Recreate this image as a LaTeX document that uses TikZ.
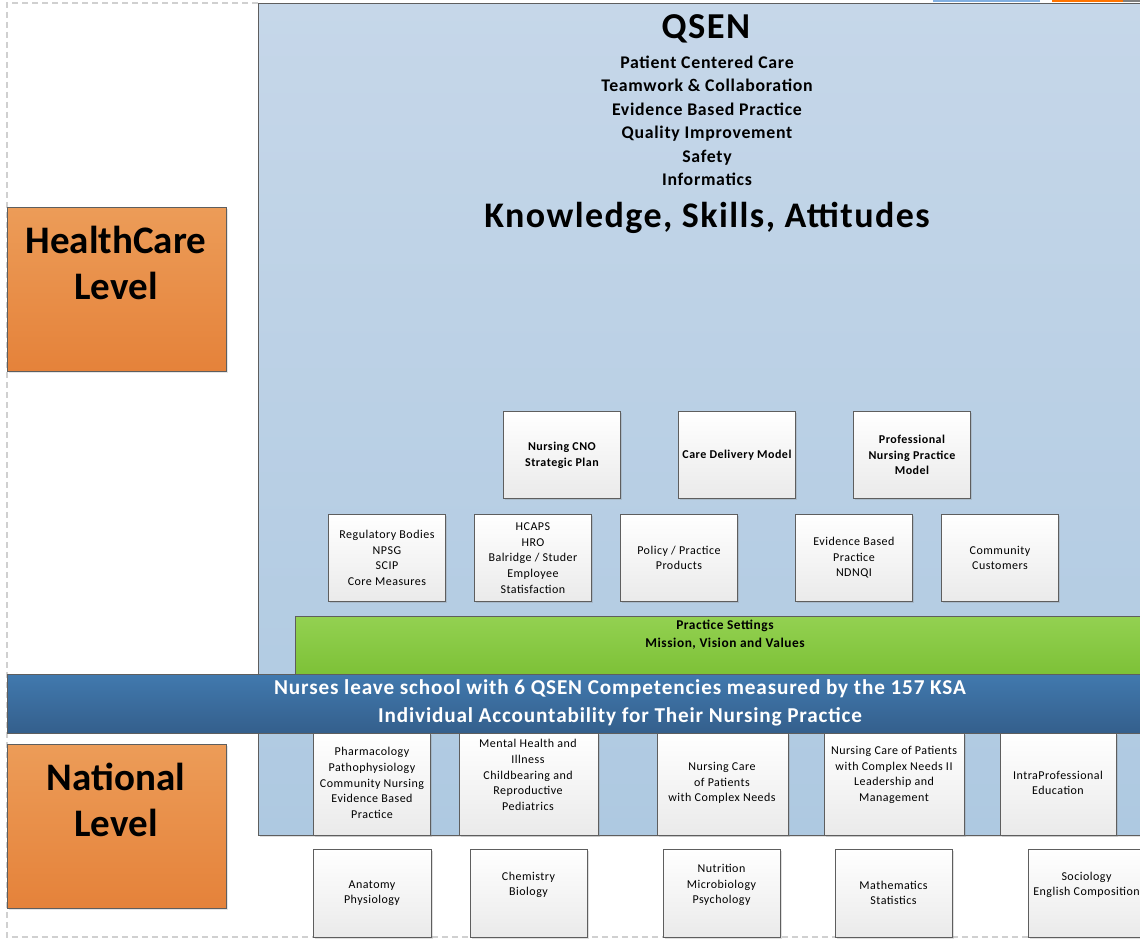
\documentclass[tikz,border=0pt]{standalone}
\usepackage{fontspec}
\setmainfont{Carlito}[LetterSpace=4]
\newfontfamily\plainfont{Carlito}
\usetikzlibrary{shadows}
\definecolor{bgtop}{HTML}{C6D7E9}
\definecolor{bgbot}{HTML}{AEC9E1}
\definecolor{bandtop}{HTML}{4179AE}
\definecolor{bandbot}{HTML}{345F8C}
\definecolor{grtop}{HTML}{93D151}
\definecolor{grbot}{HTML}{7DC137}
\definecolor{ortop}{HTML}{EC9C58}
\definecolor{orbot}{HTML}{E5823A}
\definecolor{edge}{HTML}{5E5E5E}
\definecolor{wbot}{HTML}{EAEAEA}
\definecolor{dashgray}{HTML}{D0D0D0}
\tikzset{
  wbox/.style={draw=edge, line width=0.9pt, top color=white, bottom color=wbot,
    anchor=north west, inner sep=2pt,
    drop shadow={opacity=0.25, shadow xshift=1.5pt, shadow yshift=-1.5pt}},
  txt/.style={inner sep=0pt, align=center, font=\fontsize{12}{15.6}\selectfont},
  btxt/.style={txt, font=\bfseries\fontsize{12}{15.8}\selectfont},
  lvl/.style={draw=edge, line width=0.9pt, top color=ortop, bottom color=orbot,
    anchor=north west, minimum width=219pt, minimum height=164pt,
    drop shadow={opacity=0.2, shadow xshift=1.5pt, shadow yshift=-1.5pt}},
  lvltxt/.style={inner sep=0pt, align=center, font=\plainfont\bfseries\fontsize{39}{46}\selectfont},
  hdr/.style={inner sep=0pt, anchor=base, font=\bfseries\fontsize{17.8}{20}\selectfont}
}
\begin{document}
\begin{tikzpicture}[x=1pt,y=-1pt]
\useasboundingbox (0,0) rectangle (1140,939);
\clip (0,0) rectangle (1140,939);
\fill[white] (0,0) rectangle (1140,939);
% dashed outer frame
\draw[dashgray, line width=1.2pt, dash pattern=on 6pt off 4pt] (258,3) -- (7,3) -- (7,937) -- (1140,937);
% top-right fragments
\fill[cyan!60!blue!50] (933,0) rectangle (1040,2);
\fill[orange!90!red] (1052,0) rectangle (1123,2);
\fill[gray] (1123,0) rectangle (1140,2);
% big light-blue panel
\node[draw=edge, line width=1pt, top color=bgtop, bottom color=bgbot, anchor=north west,
  minimum width=900pt, minimum height=832pt, inner sep=0pt,
  drop shadow={opacity=0.25, shadow xshift=1.5pt, shadow yshift=-1.5pt}] (panel) at (258,3) {};
% header
\node[hdr, font=\bfseries\fontsize{36.5}{40}\selectfont] (qsen) at (706,39) {QSEN};
\node[hdr] (h1) at (707,68.5) {Patient Centered Care};
\node[hdr] (h2) at (707,92) {Teamwork \& Collaboration};
\node[hdr] (h3) at (707,115.7) {Evidence Based Practice};
\node[hdr] (h4) at (707,139) {Quality Improvement};
\node[hdr] (h5) at (707,162.5) {Safety};
\node[hdr] (h6) at (707,185.7) {Informatics};
\node[hdr, font=\bfseries\fontsize{36}{40}\selectfont] (ksa) at (707,227) {Knowledge, Skills, Attitudes};
% level boxes
\node[lvl] (hc) at (7,207) {};
\node[lvltxt] (hctxt) at (116,263) {HealthCare\\Level};
\node[lvl] (nat) at (7,744) {};
\node[lvltxt] (nattxt) at (116,800) {National\\Level};
% upper row
\node[wbox, minimum width=117pt, minimum height=87pt] (cno) at (503,411) {};
\node[btxt] at (cno.center) {Nursing CNO\\Strategic Plan};
\node[wbox, minimum width=117pt, minimum height=87pt] (cdm) at (678,411) {};
\node[btxt] at (cdm.center) {Care Delivery Model};
\node[wbox, minimum width=117pt, minimum height=87pt] (pnpm) at (853,411) {};
\node[btxt] at (pnpm.center) {Professional\\Nursing Practice\\Model};
% middle row
\node[wbox, minimum width=117pt, minimum height=87pt] (reg) at (328,514) {};
\node[txt] at (reg.center) {Regulatory Bodies\\NPSG\\SCIP\\Core Measures};
\node[wbox, minimum width=117pt, minimum height=87pt] (hcaps) at (474,514) {};
\node[txt] at (hcaps.center) {HCAPS\\HRO\\Balridge / Studer\\Employee\\Statisfaction};
\node[wbox, minimum width=117pt, minimum height=87pt] (pol) at (620,514) {};
\node[txt] at (pol.center) {Policy / Practice\\Products};
\node[wbox, minimum width=117pt, minimum height=87pt] (ebp) at (795,514) {};
\node[txt] at (ebp.center) {Evidence Based\\Practice\\NDNQI};
\node[wbox, minimum width=117pt, minimum height=87pt] (comm) at (941,514) {};
\node[txt] at (comm.center) {Community\\Customers};
% green practice settings
\node[draw=edge, line width=0.9pt, top color=grtop, bottom color=grbot, anchor=north west,
  minimum width=860pt, minimum height=58pt, inner sep=0pt] (green) at (295,616) {};
\node[txt, font=\bfseries\fontsize{13.4}{18}\selectfont] (greentxt) at (725,635) {Practice Settings\\Mission, Vision and Values};
% national row 1 (inside panel)
\node[wbox, minimum width=117pt, minimum height=102pt] (n1) at (313,733) {};
\node[txt] at (372,783) {Pharmacology\\Pathophysiology\\Community Nursing\\Evidence Based\\Practice};
\node[wbox, minimum width=139pt, minimum height=102pt] (n2) at (459,733) {};
\node[txt] at (528,775) {Mental Health and\\Illness\\Childbearing and\\Reproductive\\Pediatrics};
\node[wbox, minimum width=131pt, minimum height=102pt] (n3) at (657,733) {};
\node[txt] at (722,783) {Nursing Care\\of Patients\\with Complex Needs};
\node[wbox, minimum width=140pt, minimum height=102pt] (n4) at (824,733) {};
\node[txt] at (894,775) {Nursing Care of Patients\\with Complex Needs II\\Leadership and\\Management};
\node[wbox, minimum width=116pt, minimum height=102pt] (n5) at (1000,733) {};
\node[txt] at (1058,783) {IntraProfessional\\Education};
% blue band
\node[draw=edge, line width=0.9pt, top color=bandtop, bottom color=bandbot, anchor=north west,
  minimum width=1150pt, minimum height=59pt, inner sep=0pt] (band) at (7,674) {};
\node[txt, text=white, font=\bfseries\fontsize{21.2}{28}\selectfont] (bandtxt) at (620,703) {Nurses leave school with 6 QSEN Competencies measured by the 157 KSA\\Individual Accountability for Their Nursing Practice};
% national row 2 (below panel)
\node[wbox, minimum width=118pt, minimum height=88pt] (m1) at (313,849) {};
\node[txt] at (372,893) {Anatomy\\Physiology};
\node[wbox, minimum width=117pt, minimum height=88pt] (m2) at (470,849) {};
\node[txt] at (528.5,885) {Chemistry\\Biology};
\node[wbox, minimum width=117pt, minimum height=88pt] (m3) at (663,849) {};
\node[txt] at (721.5,885) {Nutrition\\Microbiology\\Psychology};
\node[wbox, minimum width=117pt, minimum height=88pt] (m4) at (835,849) {};
\node[txt] at (893.5,893) {Mathematics\\Statistics};
\node[wbox, minimum width=117pt, minimum height=88pt] (m5) at (1028,849) {};
\node[txt] at (1086.5,885) {Sociology\\English Composition};
\end{tikzpicture}
\end{document}
